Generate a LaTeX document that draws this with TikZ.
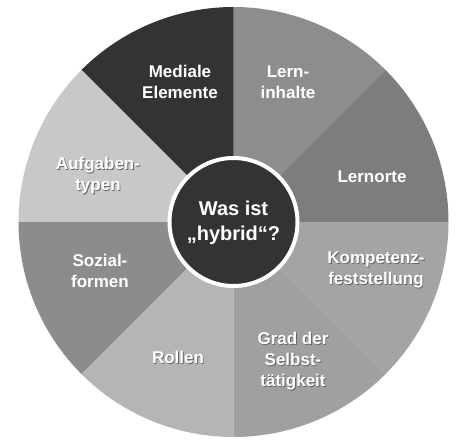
\documentclass[tikz,border=0pt]{standalone}
\usepackage{fontspec}
\setmainfont{Liberation Sans}
\definecolor{cMed}{HTML}{333333}
\definecolor{cInh}{HTML}{8D8D8D}
\definecolor{cOrt}{HTML}{7D7D7D}
\definecolor{cKom}{HTML}{A4A4A4}
\definecolor{cGrad}{HTML}{A0A0A0}
\definecolor{cRol}{HTML}{B5B5B5}
\definecolor{cSoz}{HTML}{8C8C8C}
\definecolor{cAuf}{HTML}{C8C8C8}
\definecolor{cCenter}{HTML}{333333}
\newcommand\shd[1]{\leavevmode\rlap{\kern0.9pt\raisebox{-0.9pt}{\textcolor{black!60}{#1}}}#1}
\tikzset{
  lbl/.style={text=white, font=\fontsize{17}{21}\selectfont\bfseries, align=center, inner sep=0pt},
  ctr/.style={text=white, font=\fontsize{20}{25}\selectfont\bfseries, align=center, inner sep=0pt},
}
\begin{document}
\begin{tikzpicture}[x=1pt,y=1pt]
\useasboundingbox (0,0) rectangle (458,440);
\coordinate (O) at (233.5,218);
\def\R{215}
\foreach \a/\b/\c in {0/45/cOrt,45/90/cInh,90/135/cMed,135/180/cAuf,180/225/cSoz,225/270/cRol,270/315/cGrad,315/360/cKom}{
  \fill[\c] (O) -- ++(\a:\R) arc[start angle=\a, end angle=\b, radius=\R] -- cycle;
}
\node[circle, fill=cCenter, draw=white, line width=4pt, minimum size=128pt, inner sep=0pt] (hub) at (O) {};
\node[ctr] (hubtxt) at (233.5,217.5) {Was ist\\„hybrid“?};
\node[lbl] (med) at (180,358) {Mediale\\Elemente};
\node[lbl] (inh) at (288,358) {Lern-\\inhalte};
\node[lbl] (ort) at (372,263) {Lernorte};
\node[lbl] (kom) at (376,169.5) {\shd{Kompetenz-}\\\shd{feststellung}};
\node[lbl] (grad) at (293,78) {\shd{Grad der}\\\shd{Selbst-}\\\shd{tätigkeit}};
\node[lbl] (rol) at (178,82) {\shd{Rollen}};
\node[lbl] (soz) at (100,169.5) {Sozial-\\formen};
\node[lbl] (auf) at (98,263.5) {\shd{Aufgaben-}\\\shd{typen}};
\end{tikzpicture}
\end{document}
